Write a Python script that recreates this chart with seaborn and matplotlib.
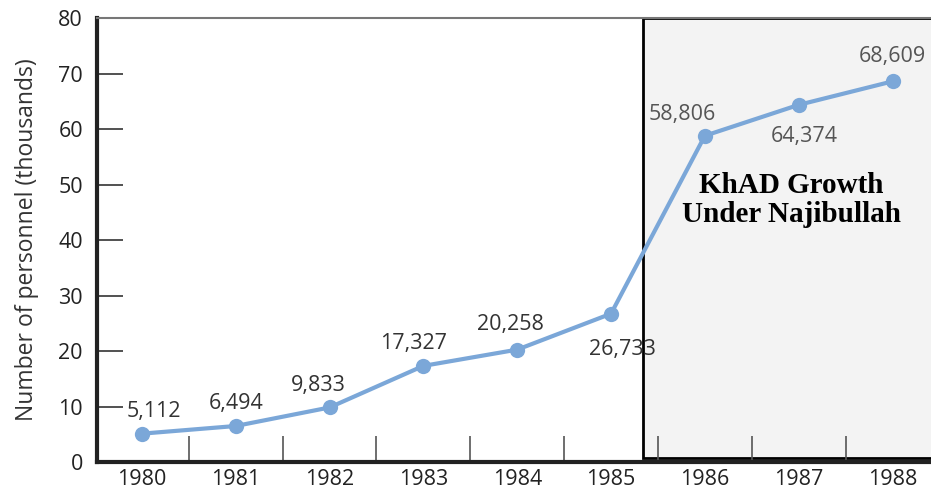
import pandas as pd
import seaborn as sns
import matplotlib.pyplot as plt
from matplotlib.patches import Rectangle
from matplotlib.ticker import FixedLocator

# data
years = [1980, 1981, 1982, 1983, 1984, 1985, 1986, 1987, 1988]
personnel = [5112, 6494, 9833, 17327, 20258, 26733, 58806, 64374, 68609]
labels = ["5,112", "6,494", "9,833", "17,327", "20,258", "26,733", "58,806", "64,374", "68,609"]
# label offsets (points) relative to the markers
offsets = [(9, 16), (0, 16), (-8, 16), (-7, 16), (-5, 18), (8, -26), (-16, 15), (4, -23), (0, 18)]

df = pd.DataFrame({"year": years, "thousands": [p / 1000 for p in personnel]})

sns.set_style("white")
plt.rcParams["font.family"] = ["Open Sans", "DejaVu Sans"]

fig = plt.figure(figsize=(9.31, 4.91), dpi=100)
ax = fig.add_axes([0.104, 0.059, 0.896, 0.904])

# shaded Najibullah period
ax.add_patch(Rectangle((1985.34, 0.7), 5, 79.3, facecolor="#f3f3f3",
                       edgecolor="black", linewidth=2, zorder=0))

sns.lineplot(data=df, x="year", y="thousands", ax=ax, color="#7ba7d8",
             linewidth=3, marker="o", markersize=11, markeredgewidth=0, zorder=3)

for x, y, lab, off in zip(df["year"], df["thousands"], labels, offsets):
    col = "#333333" if x < 1986 else "#555555"
    ax.annotate(lab, (x, y), xytext=off, textcoords="offset points",
                ha="center", va="center", fontsize=15.5, color=col, zorder=4)

ax.text(1986.92, 47.2, "KhAD Growth\nUnder Najibullah", ha="center", va="center",
        fontsize=21, fontweight="bold", family="Liberation Serif",
        color="black", linespacing=1.1, zorder=4)

ax.set_xlim(1979.52, 1988.41)
ax.set_ylim(0, 80)
ax.set_xticks(years)
ax.set_xticklabels([str(y) for y in years])
ax.xaxis.set_minor_locator(FixedLocator([y + 0.5 for y in years[:-1]]))
ax.tick_params(axis="x", which="major", bottom=False, length=0, pad=5,
               labelsize=15.5, labelcolor="#222222")
ax.tick_params(axis="x", which="minor", bottom=True, direction="in", length=19,
               width=1.2, color="#555555")
ax.set_yticks(range(0, 81, 10))
ax.tick_params(axis="y", left=True, direction="in", length=19, width=1.2, color="#333333",
               pad=10, labelsize=15.5, labelcolor="#222222")
ax.set_ylabel("Number of personnel (thousands)", fontsize=16.5, color="#333333", labelpad=14)
ax.set_xlabel("")

for side in ["left", "bottom"]:
    ax.spines[side].set_linewidth(3)
    ax.spines[side].set_color("#222222")
ax.spines["top"].set_linewidth(1.5)
ax.spines["top"].set_color("#777777")
ax.spines["right"].set_visible(False)

fig.savefig("out.png", dpi=100)
